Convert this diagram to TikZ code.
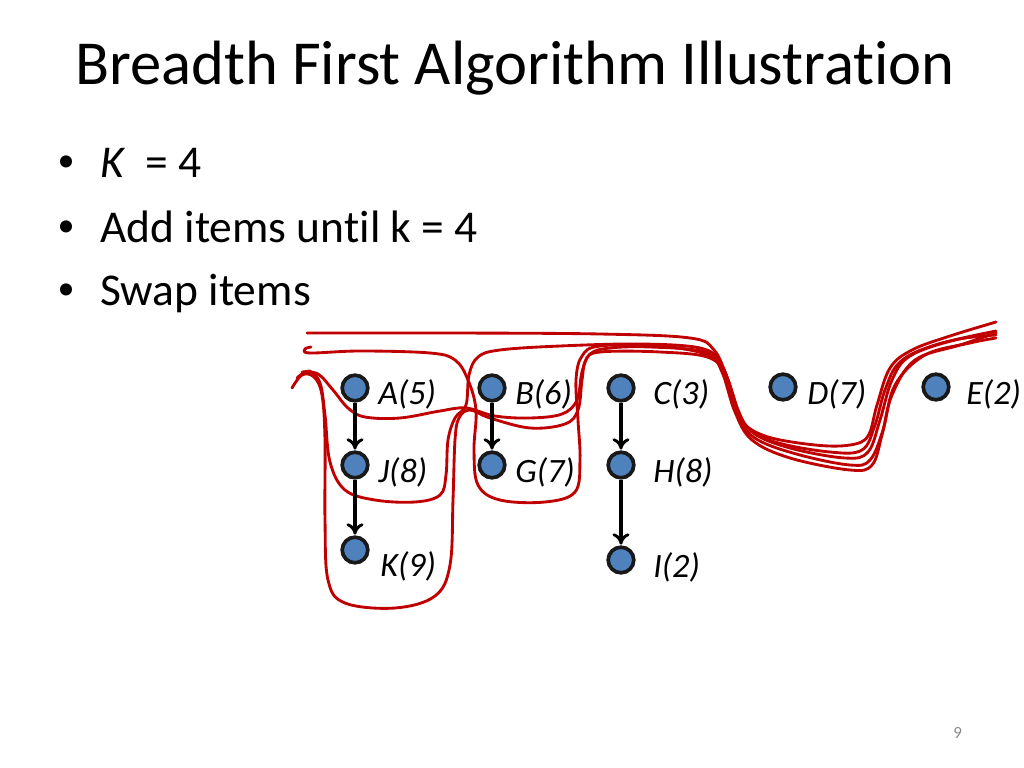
\documentclass[tikz,border=0pt]{standalone}
\usepackage{fontspec}
\setmainfont{Carlito}[Ligatures=CommonOff]
\usetikzlibrary{arrows.meta}
\definecolor{dotblue}{HTML}{4F81BD}
\definecolor{inkred}{HTML}{C00000}
\definecolor{pgnum}{HTML}{8C8C8C}
\tikzset{
  dot/.style={circle, draw=black!90, fill=dotblue, line width=2.6pt, minimum size=18pt, inner sep=0pt},
  lbl/.style={anchor=base west, inner sep=0pt, font=\fontsize{24}{28}\selectfont\itshape},
  arr/.style={-{To[length=8pt,width=12pt,line width=2pt]}, line width=2.2pt, black, shorten >=0.5pt},
  ink/.style={inkred, line width=2pt, line cap=round, line join=round},
  txt/.style={anchor=base west, inner sep=0pt},
  bul/.style={anchor=center, inner sep=0pt, font=\fontsize{24}{28}\selectfont},
}
\begin{document}
\begin{tikzpicture}[x=0.703125pt, y=-0.703125pt]
\useasboundingbox (0,0) rectangle (1024,768);
% title and bullets
\node[txt, font=\fontsize{44}{52}\selectfont] (title) at (75,85) {Breadth First Algorithm Illustration};
\node[bul] (b1) at (66,164) {•};
\node[txt, font=\fontsize{32}{38}\selectfont] (t1) at (100,178) {\textit{K}\ \ = 4};
\node[bul] (b2) at (66,229) {•};
\node[txt, font=\fontsize{32}{38}\selectfont] (t2) at (100,243) {Add items until k = 4};
\node[bul] (b3) at (66,292) {•};
\node[txt, font=\fontsize{32}{38}\selectfont] (t3) at (100,306) {Swap items};
\node[txt, font=\fontsize{12}{14}\selectfont, text=pgnum] (pg) at (953,738) {9};
% red ink strokes
\draw[ink] plot[smooth, tension=0.6] coordinates {(292,388) (302,375) (314,377) (322,395) (325,440) (325,520) (328,580) (345,603) (395,608) (435,596) (450,565) (453,500) (455,440) (459,418) (470,410) (490,418) (530,428) (565,424) (578,410) (582,380) (586,360) (600,352) (660,352) (710,358) (728,380) (740,420) (758,440) (800,455) (850,465) (870,460) (883,430) (895,385) (925,355) (970,343) (996,338)};
\draw[ink] plot[smooth, tension=0.6] coordinates {(297,378) (309,371) (320,383) (325,415) (330,462) (345,490) (375,500) (415,502) (440,495) (446,475) (448,440) (455,418) (466,405) (469,375) (478,357) (500,350) (560,346) (640,344) (700,348) (720,362) (732,392) (745,425) (775,442) (830,452) (862,450) (875,425) (885,390) (900,362) (935,345) (996,331)};
\draw[ink] plot[smooth, tension=0.6] coordinates {(302,372) (318,374) (333,390) (348,408) (365,417) (400,418) (440,411) (466,408) (495,416) (530,418) (562,414) (577,400) (582,372) (590,354) (610,348) (650,347) (705,352) (724,370) (736,405) (752,432) (790,448) (845,458) (868,452) (880,420) (892,380) (910,356) (955,340) (996,335)};
\draw[ink] plot[smooth, tension=0.6] coordinates {(311,347) (305,349) (310,353) (360,351) (430,353) (455,360) (468,380) (476,410) (474,450) (478,485) (500,500) (545,502) (575,492) (580,460) (578,420) (576,380) (582,356) (600,346) (660,346) (708,355) (722,372) (735,412) (752,440) (790,458) (850,470) (872,465) (882,435) (892,395) (915,360) (960,345) (996,333)};
\draw[ink] plot[smooth, tension=0.6] coordinates {(307,333) (450,333) (600,334) (690,338) (714,350) (727,378) (740,418) (765,436) (815,445) (850,445) (868,436) (877,405) (890,368) (912,350) (950,336) (996,322)};
% nodes
\node[dot] (A) at (355,388) {};
\node[dot] (J) at (355,465) {};
\node[dot] (K) at (355,550) {};
\node[dot] (B) at (492,388) {};
\node[dot] (G) at (492,465) {};
\node[dot] (C) at (621,388) {};
\node[dot] (H) at (621,465) {};
\node[dot] (I) at (621,560) {};
\node[dot] (D) at (783,387) {};
\node[dot] (E) at (936,387) {};
% labels
\node[lbl] (Al) at (378,404) {A(5)};
\node[lbl] (Jl) at (378,482) {J(8)};
\node[lbl] (Kl) at (380,576) {K(9)};
\node[lbl] (Bl) at (515,404) {B(6)};
\node[lbl] (Gl) at (515,482) {G(7)};
\node[lbl] (Cl) at (653,404) {C(3)};
\node[lbl] (Hl) at (653,482) {H(8)};
\node[lbl] (Il) at (653,577) {I(2)};
\node[lbl] (Dl) at (807,404) {D(7)};
\node[lbl] (El) at (966,404) {E(2)};
% arrows
\draw[arr] (A) -- (J);
\draw[arr] (J) -- (K);
\draw[arr] (B) -- (G);
\draw[arr] (C) -- (H);
\draw[arr] (H) -- (I);
\end{tikzpicture}
\end{document}
